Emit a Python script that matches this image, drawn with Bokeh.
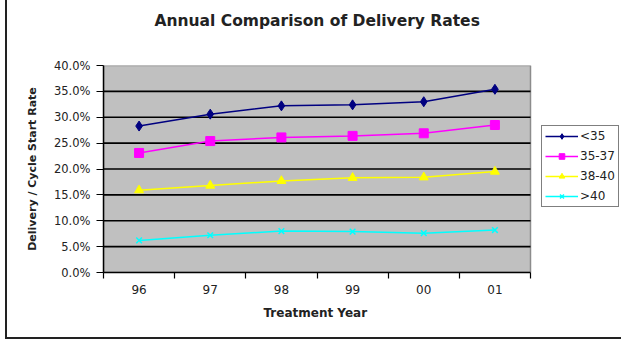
from bokeh.plotting import figure
from bokeh.models import (FixedTicker, Legend, LegendItem, Range1d,
                          PrintfTickFormatter, Title, InlineStyleSheet)
from bokeh.embed import file_html
from bokeh.resources import INLINE

years = ["96", "97", "98", "99", "00", "01"]
s_lt35 = [28.3, 30.6, 32.2, 32.4, 33.0, 35.4]
s_3537 = [23.1, 25.4, 26.1, 26.4, 26.9, 28.5]
s_3840 = [15.9, 16.8, 17.7, 18.3, 18.4, 19.5]
s_gt40 = [6.2, 7.2, 8.0, 7.9, 7.6, 8.2]
series_names = ["<35", "35-37", "38-40", ">40"]
y_ticks = [0, 5, 10, 15, 20, 25, 30, 35, 40]

FONT = "DejaVu Sans"
W, H = 621, 342
LEFT, PLOT_RIGHT = 103, 530
n = len(years)
xs = [i + 0.5 for i in range(n)]
x_end = n * (W - LEFT) / (PLOT_RIGHT - LEFT)   # frame runs to the canvas edge

frame_css = InlineStyleSheet(css="""
:host { position: relative; }
:host::after {
  content: ""; position: absolute; left: 5px; top: -10px; width: 700px; height: 349px;
  border-left: 2px solid #222; border-bottom: 2px solid #222; pointer-events: none;
  box-sizing: border-box;
}
""")

p = figure(width=W, height=H, output_backend="svg", toolbar_location=None,
           x_range=Range1d(0, x_end), y_range=Range1d(0, 40),
           min_border_left=LEFT, min_border_right=0, min_border_top=65,
           min_border_bottom=70, title=None, stylesheets=[frame_css])
p.background_fill_color = "white"
p.border_fill_color = "white"
p.outline_line_color = None
p.xgrid.grid_line_color = None
p.ygrid.grid_line_color = None

# plot area (gray) with gray border, and black horizontal gridlines
p.quad(left=0, right=n, bottom=y_ticks[0], top=y_ticks[-1],
       fill_color="#C0C0C0", line_color="#8c8c8c", line_width=1.5)
p.segment(x0=[0] * (len(y_ticks) - 2), x1=[n] * (len(y_ticks) - 2),
          y0=y_ticks[1:-1], y1=y_ticks[1:-1], line_color="black", line_width=1.6)

# y axis
p.yaxis.ticker = FixedTicker(ticks=y_ticks)
p.yaxis.formatter = PrintfTickFormatter(format="%.1f%%")
p.yaxis.axis_line_color = "black"
p.yaxis.axis_line_width = 1.5
p.yaxis.major_tick_in = 0
p.yaxis.major_tick_out = 7
p.yaxis.major_tick_line_width = 1.2
p.yaxis.minor_tick_line_color = None
p.yaxis.major_label_text_font = FONT
p.yaxis.major_label_text_font_size = "11.5px"
p.yaxis.major_label_text_color = "#222"
p.yaxis.major_label_standoff = 6
p.yaxis.axis_label = "Delivery / Cycle Start Rate"
p.yaxis.axis_label_text_font = FONT
p.yaxis.axis_label_text_font_size = "11px"
p.yaxis.axis_label_text_font_style = "bold"
p.yaxis.axis_label_text_color = "#222"
p.yaxis.axis_label_standoff = 12

# x axis
p.xaxis.bounds = (0, n)
p.xaxis.ticker = FixedTicker(ticks=xs, minor_ticks=list(range(n + 1)))
p.xaxis.major_label_overrides = {x: y for x, y in zip(xs, years)}
p.xaxis.major_tick_line_color = None
p.xaxis.major_tick_in = 0
p.xaxis.major_tick_out = 6
p.xaxis.minor_tick_in = 0
p.xaxis.minor_tick_out = 6
p.xaxis.minor_tick_line_color = "black"
p.xaxis.minor_tick_line_width = 1.2
p.xaxis.axis_line_color = "black"
p.xaxis.axis_line_width = 1.5
p.xaxis.major_label_text_font = FONT
p.xaxis.major_label_text_font_size = "12px"
p.xaxis.major_label_text_color = "#222"
p.xaxis.major_label_standoff = 6

# x-axis title, centred under the gray plot area
xtitle = Title(text="Treatment Year", align="left", vertical_align="top",
               text_font=FONT, text_font_size="12px", text_font_style="bold",
               text_color="#222", offset=263 - LEFT, standoff=19)
p.add_layout(xtitle, "below")

# spacer (nearest the frame), then the chart title above it
spacer = Title(text=" ", text_font=FONT, text_font_size="10px", standoff=9,
               text_color="white")
p.add_layout(spacer, "above")
title = Title(text="Annual Comparison of Delivery Rates", align="left", vertical_align="top",
              text_font=FONT, text_font_size="15.5px", text_font_style="bold",
              text_color="#222", offset=154 - LEFT, standoff=23)
p.add_layout(title, "above")

colors = ["#000080", "#FF00FF", "#FFFF00", "#00FFFF"]
data = [s_lt35, s_3537, s_3840, s_gt40]
items = []
for name, vals, c, i in zip(series_names, data, colors, range(4)):
    ln = p.line(xs, vals, line_color=c, line_width=1.5)
    if i == 0:
        mk = p.scatter(xs, vals, marker="diamond", size=10, color=c)
    elif i == 1:
        mk = p.scatter(xs, vals, marker="square", size=9, color=c)
    elif i == 2:
        mk = p.scatter(xs, vals, marker="triangle", size=9, color=c)
    else:
        mk = p.scatter(xs, vals, marker="x", size=8, line_color=c, line_width=1.5)
    items.append(LegendItem(label=name, renderers=[ln, mk]))

legend = Legend(items=items, location=(PLOT_RIGHT + 11 - LEFT, 65), orientation="vertical",
                label_text_font=FONT, label_text_font_size="12px", label_text_color="#222",
                glyph_width=33, glyph_height=14, label_standoff=2,
                spacing=6, padding=3, margin=0,
                border_line_color="black", border_line_width=1.5,
                background_fill_color="white", background_fill_alpha=1.0,
                label_height=14)
p.add_layout(legend, "center")

open("out.html", "w").write(file_html(p, INLINE))
